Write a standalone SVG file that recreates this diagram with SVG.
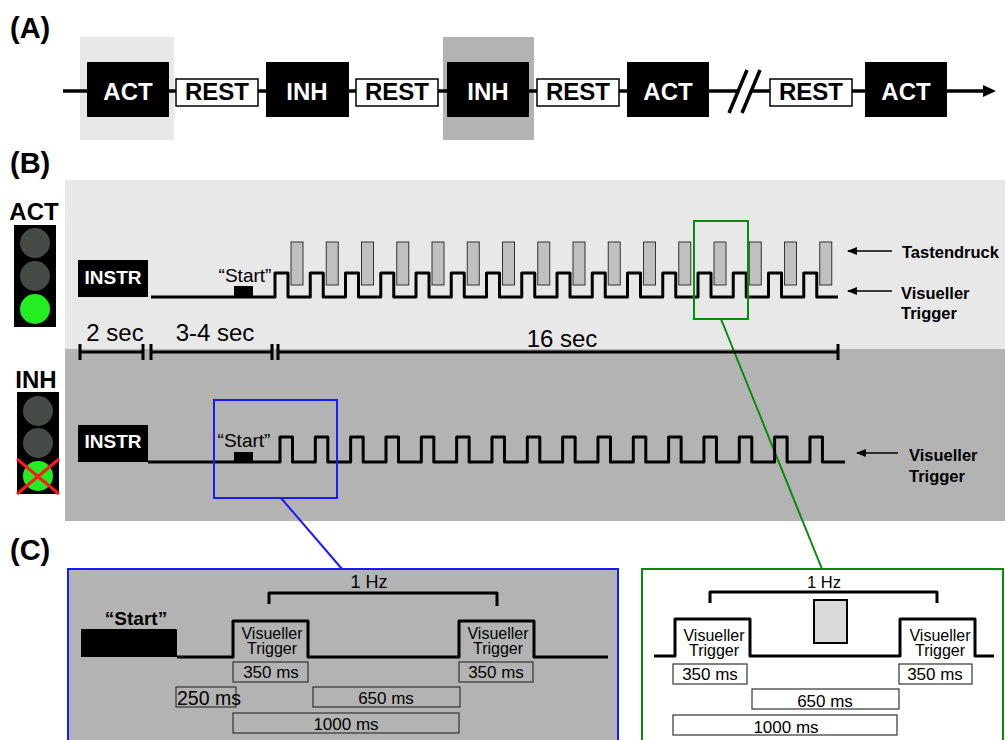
<svg xmlns="http://www.w3.org/2000/svg" width="1005" height="740" viewBox="0 0 1005 740">
<style>
text{font-family:"Liberation Sans",Arial,sans-serif}
.b{font-weight:bold}
.blk{fill:#000}
.wt{fill:#fff;font-weight:bold;font-size:24px}
.rest{fill:#fff;stroke:#000;stroke-width:1.5}
.rt{fill:#000;font-weight:bold;font-size:24px}
.sig{fill:none;stroke:#000;stroke-width:3;stroke-linejoin:round}
.key{fill:#c0c0c0;stroke:#333;stroke-width:1}
.tb{fill:none;stroke:#000;stroke-width:3}
.lbox{fill:none;stroke:#333;stroke-width:1.2}
.wbox{fill:#fff;stroke:#333;stroke-width:1.2}
.s17{font-size:17px}
.vt{font-size:16px}
.lamp{fill:#464a46}
</style>
<defs>
<marker id="ah" markerWidth="10" markerHeight="8" refX="9" refY="4" orient="auto" markerUnits="userSpaceOnUse">
<path d="M0,0 L10,4 L0,8 Z" fill="#000"/>
</marker>
</defs>
<rect width="1005" height="740" fill="#fff"/>

<!-- backgrounds -->
<rect x="80" y="37" width="94" height="103" fill="#e8e8e8"/>
<rect x="443" y="37" width="91" height="103" fill="#b3b3b3"/>
<rect x="65" y="180" width="940" height="169" fill="#e8e8e8"/>
<rect x="65" y="349" width="940" height="172" fill="#b3b3b3"/>

<text x="10" y="38" class="b" font-size="29">(A)</text>
<text x="10" y="173" class="b" font-size="29">(B)</text>
<text x="10" y="560" class="b" font-size="29">(C)</text>

<g id="connectors">
<line x1="63" y1="91" x2="737" y2="91" stroke="#000" stroke-width="3.5"/>
<line x1="750" y1="91" x2="984" y2="91" stroke="#000" stroke-width="3.5"/>
<polygon points="983,85 996,91 983,97" fill="#000"/>
<line x1="729" y1="113" x2="747" y2="70" stroke="#000" stroke-width="3.5"/>
<line x1="742" y1="113" x2="760" y2="70" stroke="#000" stroke-width="3.5"/>
<line x1="281" y1="498" x2="342" y2="569" stroke="#1a1aff" stroke-width="2"/>
<line x1="721" y1="319" x2="822" y2="569" stroke="#0a8a0a" stroke-width="2"/>
</g>

<g id="a-act1"><rect x="87" y="62" width="82" height="55" class="blk"/><text x="128" y="100" class="wt" text-anchor="middle">ACT</text></g>
<g id="a-rest1"><rect x="176" y="79" width="82" height="27" class="rest"/><text x="217" y="100" class="rt" text-anchor="middle">REST</text></g>
<g id="a-inh1"><rect x="266" y="62" width="83" height="55" class="blk"/><text x="307" y="100" class="wt" text-anchor="middle">INH</text></g>
<g id="a-rest2"><rect x="356" y="79" width="82" height="27" class="rest"/><text x="397" y="100" class="rt" text-anchor="middle">REST</text></g>
<g id="a-inh2"><rect x="447" y="62" width="82" height="55" class="blk"/><text x="488" y="100" class="wt" text-anchor="middle">INH</text></g>
<g id="a-rest3"><rect x="537" y="79" width="82" height="27" class="rest"/><text x="578" y="100" class="rt" text-anchor="middle">REST</text></g>
<g id="a-act2"><rect x="627" y="62" width="82" height="55" class="blk"/><text x="668" y="100" class="wt" text-anchor="middle">ACT</text></g>
<g id="a-rest4"><rect x="770" y="79" width="82" height="27" class="rest"/><text x="811" y="100" class="rt" text-anchor="middle">REST</text></g>
<g id="a-act3"><rect x="865" y="62" width="82" height="55" class="blk"/><text x="906" y="100" class="wt" text-anchor="middle">ACT</text></g>

<g id="act-light">
<text x="34" y="220" class="b" font-size="24" text-anchor="middle">ACT</text>
<rect x="14" y="225" width="42" height="102" fill="#000"/>
<circle cx="35" cy="243" r="15" class="lamp"/>
<circle cx="35" cy="276" r="15" class="lamp"/>
<circle cx="35" cy="309" r="15" fill="#22ee22"/>
</g>
<g id="inh-light">
<text x="36" y="388" class="b" font-size="24" text-anchor="middle">INH</text>
<rect x="17" y="392" width="42" height="102" fill="#000"/>
<circle cx="38" cy="411" r="15" class="lamp"/>
<circle cx="38" cy="443" r="15" class="lamp"/>
<circle cx="38" cy="476" r="15" fill="#22ee22"/>
<line x1="17" y1="459" x2="59" y2="494" stroke="#ff1a1a" stroke-width="3"/>
<line x1="59" y1="459" x2="17" y2="494" stroke="#ff1a1a" stroke-width="3"/>
</g>

<g id="act-instr"><rect x="78" y="260" width="70" height="37" class="blk"/><text x="113" y="284" fill="#fff" class="b" font-size="19" text-anchor="middle">INSTR</text></g>
<g id="act-train">
<text x="245" y="282" font-size="19" text-anchor="middle">“Start”</text>
<rect x="234" y="286" width="19" height="11" fill="#000"/>
<path class="sig" stroke-width="2.5" d="M151,297H275V273h13V297h22.25V273h13V297h22.25V273h13V297h22.25V273h13V297h22.25V273h13V297h22.25V273h13V297h22.25V273h13V297h22.25V273h13V297h22.25V273h13V297h22.25V273h13V297h22.25V273h13V297h22.25V273h13V297h22.25V273h13V297h22.25V273h13V297h22.25V273h13V297h22.25V273h13V297H838"/>
<g class="key">
<rect x="291" y="242" width="12" height="43"/><rect x="326.25" y="242" width="12" height="43"/><rect x="361.5" y="242" width="12" height="43"/><rect x="396.75" y="242" width="12" height="43"/>
<rect x="432" y="242" width="12" height="43"/><rect x="467.25" y="242" width="12" height="43"/><rect x="502.5" y="242" width="12" height="43"/><rect x="537.75" y="242" width="12" height="43"/>
<rect x="573" y="242" width="12" height="43"/><rect x="608.25" y="242" width="12" height="43"/><rect x="643.5" y="242" width="12" height="43"/><rect x="678.75" y="242" width="12" height="43"/>
<rect x="714" y="242" width="12" height="43"/><rect x="749.25" y="242" width="12" height="43"/><rect x="784.5" y="242" width="12" height="43"/><rect x="819.75" y="242" width="12" height="43"/>
</g>
</g>
<rect x="694" y="221" width="54" height="98" fill="none" stroke="#0a8a0a" stroke-width="2"/>
<g id="act-labels">
<line x1="892" y1="251" x2="848" y2="251" stroke="#000" stroke-width="1.5" marker-end="url(#ah)"/>
<text x="902" y="258" class="b" font-size="16.5">Tastendruck</text>
<line x1="892" y1="291" x2="848" y2="291" stroke="#000" stroke-width="1.5" marker-end="url(#ah)"/>
<text x="901" y="299" class="b" font-size="16.5">Visueller</text>
<text x="901" y="319" class="b" font-size="16.5">Trigger</text>
</g>

<g id="timeline">
<path class="tb" d="M80,352H143M80,344V360M143,344V360M151,352H272M151,344V360M272,344V360M278,352H838M278,344V360M838,344V360"/>
<text x="115" y="341" font-size="24" text-anchor="middle">2 sec</text>
<text x="215" y="341" font-size="24" text-anchor="middle">3-4 sec</text>
<text x="562" y="347" font-size="24" text-anchor="middle">16 sec</text>
</g>

<g id="inh-instr"><rect x="78" y="425" width="70" height="37" class="blk"/><text x="113" y="448" fill="#fff" class="b" font-size="19" text-anchor="middle">INSTR</text></g>
<g id="inh-train">
<text x="244" y="447" font-size="19" text-anchor="middle">“Start”</text>
<rect x="234" y="452" width="19" height="10" fill="#000"/>
<path class="sig" stroke-width="2.5" d="M148,462H280V437h12.5V462h22.83V437h12.5V462h22.83V437h12.5V462h22.83V437h12.5V462h22.83V437h12.5V462h22.83V437h12.5V462h22.83V437h12.5V462h22.83V437h12.5V462h22.83V437h12.5V462h22.83V437h12.5V462h22.83V437h12.5V462h22.83V437h12.5V462h22.83V437h12.5V462h22.83V437h12.5V462h22.83V437h12.5V462h22.83V437h12.5V462H845"/>
</g>
<rect x="214" y="400" width="123" height="98" fill="none" stroke="#1a1aff" stroke-width="2"/>
<g id="inh-labels">
<line x1="898" y1="453" x2="857" y2="453" stroke="#000" stroke-width="1.5" marker-end="url(#ah)"/>
<text x="909" y="461" class="b" font-size="16.5">Visueller</text>
<text x="909" y="482" class="b" font-size="16.5">Trigger</text>
</g>

<g id="c-inh">
<rect x="68" y="569" width="550" height="180" fill="#b3b3b3" stroke="#1a1aff" stroke-width="2"/>
<text x="136" y="625" class="b" font-size="19" text-anchor="middle">“Start”</text>
<rect x="81" y="629" width="96" height="28" fill="#000"/>
<path class="sig" d="M177,657H233V621H308V657H459V621H534V657H608"/>
<path class="sig" d="M269,604V593H497V606"/>
<text x="369" y="588" font-size="18" text-anchor="middle">1 Hz</text>
<text x="272" y="639" class="vt" text-anchor="middle">Visueller</text>
<text x="272" y="654" class="vt" text-anchor="middle">Trigger</text>
<text x="498" y="639" class="vt" text-anchor="middle">Visueller</text>
<text x="498" y="654" class="vt" text-anchor="middle">Trigger</text>
<rect x="233" y="662" width="75" height="20" class="lbox"/>
<text x="271" y="678" class="s17" text-anchor="middle">350 ms</text>
<rect x="459" y="662" width="74" height="20" class="lbox"/>
<text x="496" y="678" class="s17" text-anchor="middle">350 ms</text>
<rect x="176" y="687" width="60" height="20" class="lbox"/>
<text x="177" y="705" font-size="19.5">250 ms</text>
<rect x="313" y="687" width="147" height="20" class="lbox"/>
<text x="386" y="704" class="s17" text-anchor="middle">650 ms</text>
<rect x="233" y="713" width="226" height="20" class="lbox"/>
<text x="346" y="730" class="s17" text-anchor="middle">1000 ms</text>
</g>

<g id="c-act">
<rect x="642" y="569" width="361" height="180" fill="#fff" stroke="#0a8a0a" stroke-width="2"/>
<path class="sig" d="M710,603V592H937V603"/>
<text x="824" y="588" font-size="16.5" text-anchor="middle">1 Hz</text>
<rect x="814" y="600" width="33" height="43" fill="#d9d9d9" stroke="#000" stroke-width="2"/>
<path class="sig" d="M654,656H675V619H750V656H900V619H975V656H994"/>
<text x="714" y="641" class="vt" text-anchor="middle">Visueller</text>
<text x="714" y="656" class="vt" text-anchor="middle">Trigger</text>
<text x="940" y="641" class="vt" text-anchor="middle">Visueller</text>
<text x="940" y="656" class="vt" text-anchor="middle">Trigger</text>
<rect x="673" y="664" width="74" height="20" class="wbox"/>
<text x="710" y="680" class="s17" text-anchor="middle">350 ms</text>
<rect x="899" y="664" width="73" height="20" class="wbox"/>
<text x="935" y="680" class="s17" text-anchor="middle">350 ms</text>
<rect x="752" y="689" width="147" height="20" class="wbox"/>
<text x="825" y="707" class="s17" text-anchor="middle">650 ms</text>
<rect x="673" y="715" width="224" height="20" class="wbox"/>
<text x="786" y="733" class="s17" text-anchor="middle">1000 ms</text>
</g>
</svg>
